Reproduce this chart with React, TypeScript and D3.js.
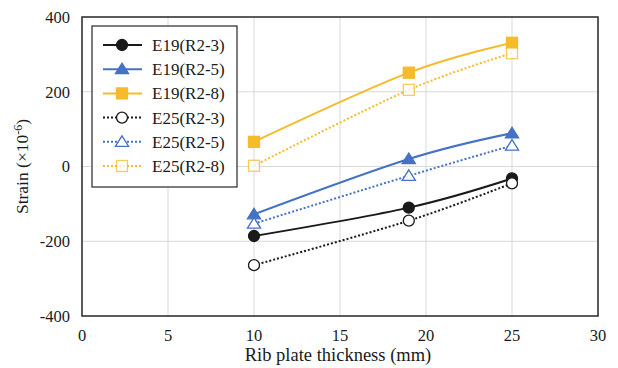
import React from "react";
import * as d3 from "d3";

const thickness = [10, 19, 25];
const seriesNames = ["E19(R2-3)", "E19(R2-5)", "E19(R2-8)", "E25(R2-3)", "E25(R2-5)", "E25(R2-8)"];
const e19r23 = [-186, -110, -32];
const e19r25 = [-128, 20, 89];
const e19r28 = [66, 251, 331];
const e25r23 = [-264, -145, -45];
const e25r25 = [-153, -25, 56];
const e25r28 = [2, 205, 303];
const xTicks = [0, 5, 10, 15, 20, 25, 30];
const yTicks = [-400, -200, 0, 200, 400];

const BLACK = "#1a1a1a";
const BLUE = "#4472c4";
const GOLD = "#f5bb2a";

const series = [
  { name: seriesNames[0], values: e19r23, color: BLACK, marker: "circle", filled: true, dashed: false },
  { name: seriesNames[1], values: e19r25, color: BLUE, marker: "triangle", filled: true, dashed: false },
  { name: seriesNames[2], values: e19r28, color: GOLD, marker: "square", filled: true, dashed: false },
  { name: seriesNames[3], values: e25r23, color: BLACK, marker: "circle", filled: false, dashed: true },
  { name: seriesNames[4], values: e25r25, color: BLUE, marker: "triangle", filled: false, dashed: true },
  { name: seriesNames[5], values: e25r28, color: GOLD, marker: "square", filled: false, dashed: true },
];

const FONT = "'Liberation Serif', 'Times New Roman', serif";

function Marker({ type, x, y, color, filled }: any) {
  const fill = filled ? color : "white";
  const sw = 1.3;
  if (type === "circle") return <circle cx={x} cy={y} r={5.5} fill={fill} stroke={color} strokeWidth={sw} />;
  if (type === "square")
    return <rect x={x - 5.5} y={y - 5.5} width={11} height={11} fill={fill} stroke={color} strokeWidth={sw} opacity={filled ? 1 : 0.75} />;
  const s = 6;
  return (
    <path
      d={`M${x},${y - s} L${x + s * 1.1},${y + s * 0.75} L${x - s * 1.1},${y + s * 0.75} Z`}
      fill={fill}
      stroke={color}
      strokeWidth={sw}
    />
  );
}

export default function App() {
  const W = 618, H = 368;
  const x = d3.scaleLinear().domain([0, 30]).range([82, 598]);
  const y = d3.scaleLinear().domain([-400, 400]).range([316, 17]);
  const line = d3
    .line<number>()
    .x((_, i) => x(thickness[i]))
    .y((d) => y(d))
    .curve(d3.curveCardinal.tension(0));

  const legX = 92, legY = 26, legW = 145, legH = 161;
  const legRow = 24.2;

  return (
    <svg width={W} height={H} style={{ position: "absolute", left: 0, top: 0, background: "white" }} fontFamily={FONT}>
      <rect width={W} height={H} fill="white" />
      {xTicks.slice(1, -1).map((t) => (
        <line key={"gx" + t} x1={x(t)} x2={x(t)} y1={y(400)} y2={y(-400)} stroke="#d9d9d9" strokeWidth={1} />
      ))}
      {yTicks.slice(1, -1).map((t) => (
        <line key={"gy" + t} x1={x(0)} x2={x(30)} y1={y(t)} y2={y(t)} stroke="#d9d9d9" strokeWidth={1} />
      ))}
      <rect x={x(0)} y={y(400)} width={x(30) - x(0)} height={y(-400) - y(400)} fill="none" stroke="#262626" strokeWidth={1.5} />
      {yTicks.map((t) => (
        <text key={"yt" + t} x={70} y={y(t)} dy="0.35em" textAnchor="end" fontSize={16.5} fill="#1a1a1a">
          {t}
        </text>
      ))}
      {xTicks.map((t) => (
        <text key={"xt" + t} x={x(t)} y={335.5} dy="0.35em" textAnchor="middle" fontSize={16.5} fill="#1a1a1a">
          {t}
        </text>
      ))}
      <text x={338} y={355} dy="0.35em" textAnchor="middle" fontSize={18.5} fill="#1a1a1a">
        Rib plate thickness (mm)
      </text>
      <text transform={`translate(22,${y(0)}) rotate(-90)`} textAnchor="middle" dy="0.35em" fontSize={17.5} fill="#1a1a1a">
        Strain (×10<tspan dy="-6" fontSize={12}>-6</tspan>
        <tspan dy="6">)</tspan>
      </text>
      {series.map((s) => (
        <path
          key={"l" + s.name}
          d={line(s.values) || ""}
          fill="none"
          stroke={s.color}
          strokeWidth={2}
          strokeDasharray={s.dashed ? "2,2" : undefined}
        />
      ))}
      {series.map((s) =>
        s.values.map((v, i) => (
          <Marker key={s.name + i} type={s.marker} x={x(thickness[i])} y={y(v)} color={s.color} filled={s.filled} />
        ))
      )}
      <rect x={legX} y={legY} width={legW} height={legH} fill="white" stroke="#262626" strokeWidth={1.2} />
      {series.map((s, i) => {
        const cy = legY + 19 + i * legRow;
        return (
          <g key={"lg" + s.name}>
            <line x1={103} x2={142} y1={cy} y2={cy} stroke={s.color} strokeWidth={2} strokeDasharray={s.dashed ? "2,2" : undefined} />
            <Marker type={s.marker} x={122} y={cy} color={s.color} filled={s.filled} />
            <text x={152} y={cy} dy="0.35em" fontSize={17} fill="#1a1a1a">
              {s.name}
            </text>
          </g>
        );
      })}
    </svg>
  );
}
